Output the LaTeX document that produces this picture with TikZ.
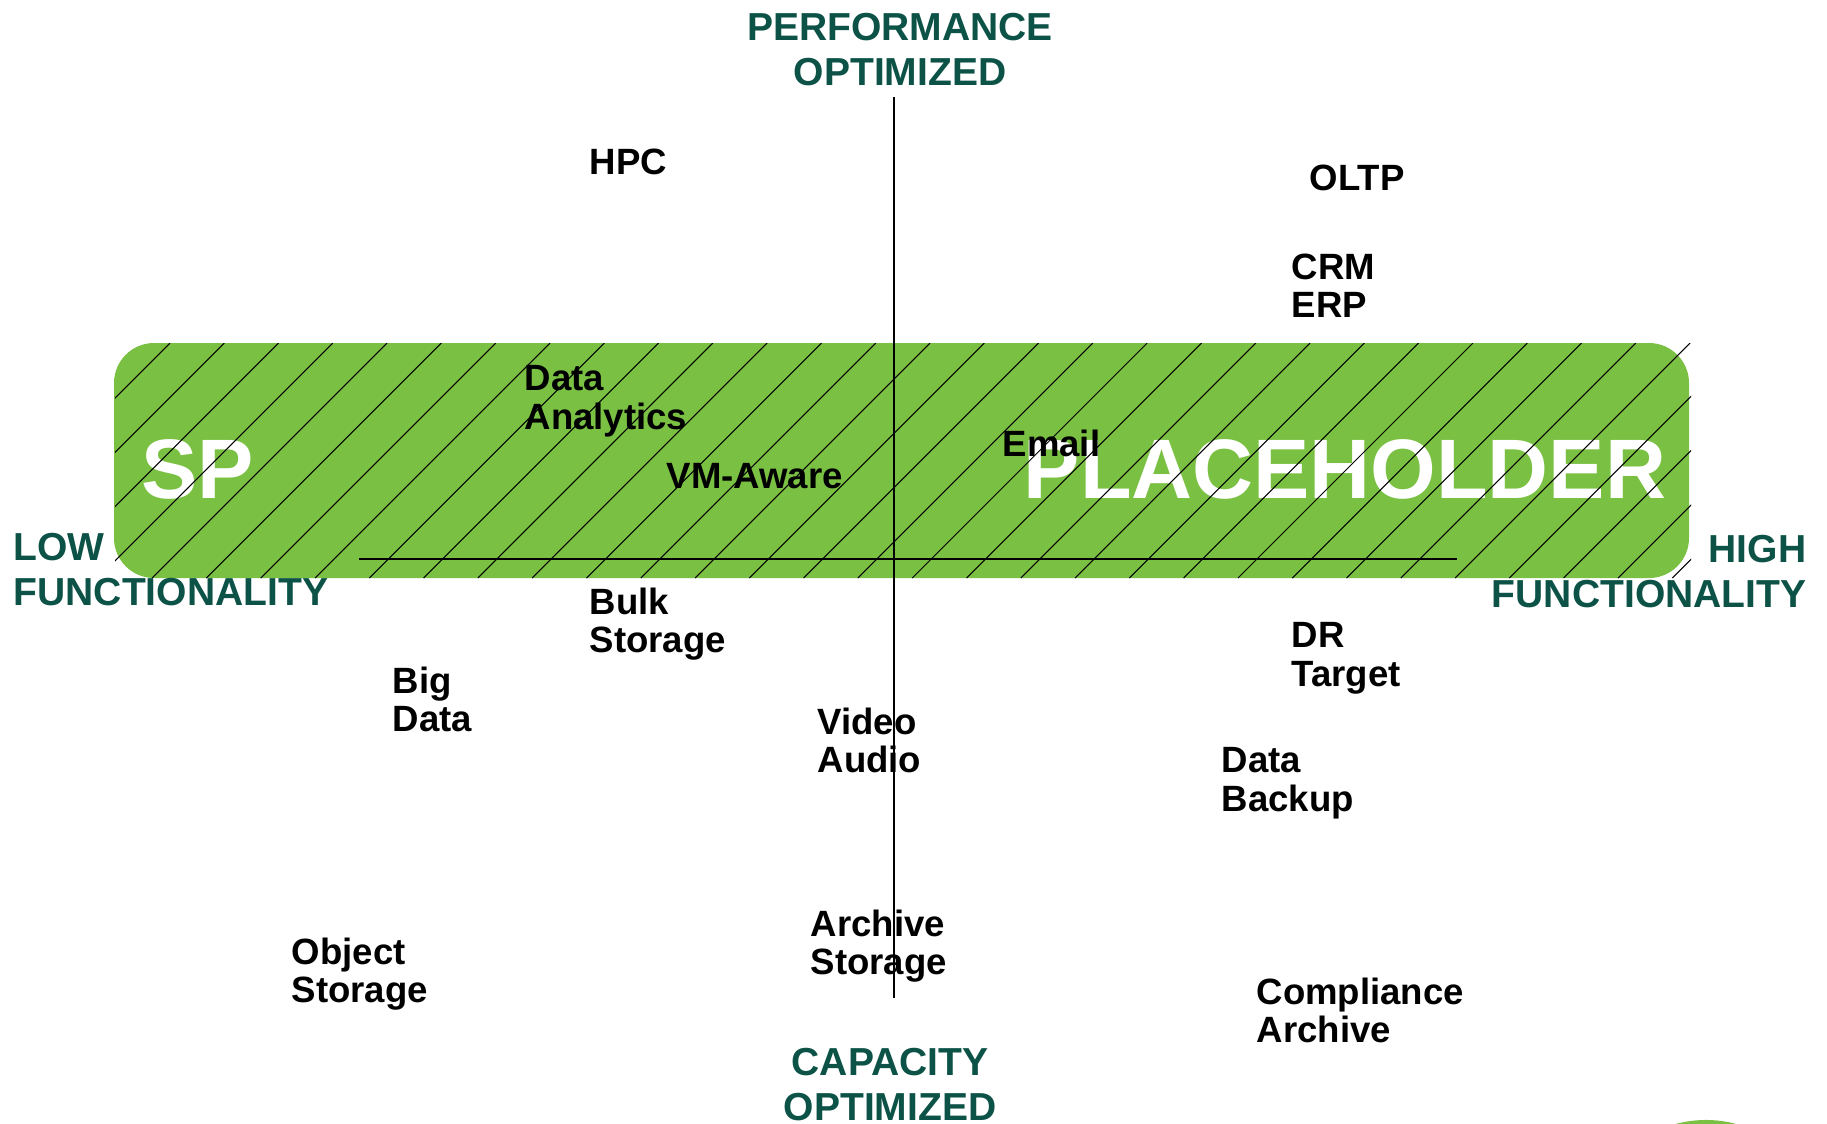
\documentclass[tikz,border=0pt]{standalone}
\usepackage{fontspec}
\setmainfont{Liberation Sans}
\usepackage{xcolor}
\usetikzlibrary{positioning}

\definecolor{bandgreen}{RGB}{122,193,67}
\definecolor{titlegreen}{RGB}{12,82,70}

\begin{document}
\begin{tikzpicture}[x=0.01cm, y=-0.01cm]
        \tikzstyle{usecase}=[anchor=north west,inner sep=0pt,align=left,font=\fontsize{10.4}{10.9}\selectfont\bfseries]
        \tikzstyle{axistitle}=[inner sep=0pt,text=titlegreen,font=\fontsize{11.1}{12.75}\selectfont\bfseries]
        \tikzstyle{bigword}=[anchor=base west,inner sep=0pt,text=white,font=\fontsize{24}{28}\selectfont\bfseries]
        \useasboundingbox (0,0) rectangle (1827,1123);
        \clip (0,0) rectangle (1827,1123);
        % band
        \fill[bandgreen, rounded corners=0.4cm] (114,343) rectangle (1689,578);
        \node[bigword] (sp) at (141,498) {SP};
        \node[bigword] (placeholder) at (1023,498) {PLACEHOLDER};
        \begin{scope}
          \clip (115,343) rectangle (1691,578);
          \foreach \k in {0,...,32}
            \draw[line width=0.3pt] ({170+54.29*\k},343) -- ++(-235,235);
        \end{scope}
        % axes
        \coordinate (axtop) at (894,97);
        \coordinate (axbot) at (894,998);
        \coordinate (baseleft) at (359,559);
        \coordinate (baseright) at (1457,559);
        \draw[line width=0.3pt] (axtop) -- (axbot);
        \draw[line width=0.3pt] (baseleft) -- (baseright);
        \node[axistitle,anchor=north,align=center] (perf) at (900,13) {PERFORMANCE\\OPTIMIZED};
        \node[axistitle,anchor=north,align=center] (cap) at (890,1048) {CAPACITY\\OPTIMIZED};
        \node[axistitle,anchor=north west,align=left] (lowf) at (13,533) {LOW\\FUNCTIONALITY};
        \node[axistitle,anchor=north east,align=right] (highf) at (1807,535) {HIGH\\FUNCTIONALITY};
        % workloads
        \node[usecase] (hpc) at (589,148) {HPC};
        \node[usecase] (oltp) at (1309,164) {OLTP};
        \node[usecase] (crm) at (1291,253) {CRM\\ERP};
        \node[usecase] (analytics) at (524,365) {Data\\Analytics};
        \node[usecase] (vmaware) at (666,463) {VM-Aware};
        \node[usecase] (email) at (1002,429) {Email};
        \node[usecase] (bulk) at (589,587) {Bulk\\Storage};
        \node[usecase] (bigdata) at (392,666) {Big\\Data};
        \node[usecase] (video) at (817,707) {Video\\Audio};
        \node[usecase] (drtarget) at (1291,622) {DR\\Target};
        \node[usecase] (backup) at (1221,747) {Data\\Backup};
        \node[usecase] (archive) at (810,909) {Archive\\Storage};
        \node[usecase] (object) at (291,937) {Object\\Storage};
        \node[usecase] (compliance) at (1256,977) {Compliance\\Archive};
        % logo edge
        \fill[bandgreen] (1706,1234) circle (1.14cm);
\end{tikzpicture}
\end{document}
